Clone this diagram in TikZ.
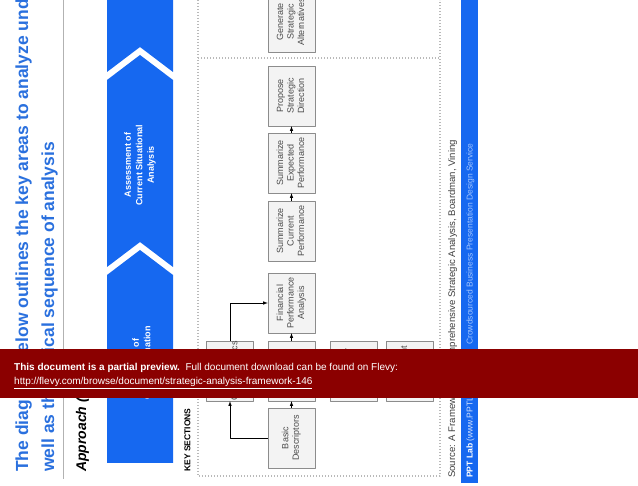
\documentclass[tikz,border=0pt]{standalone}
\usepackage{fontspec}
\setmainfont{Liberation Sans}
\usepackage{graphicx}
\definecolor{slideblue}{RGB}{22,104,240}
\definecolor{titleblue}{RGB}{42,112,222}
\definecolor{tagblue}{RGB}{160,196,255}
\definecolor{flevyred}{RGB}{139,0,0}
\definecolor{boxline}{RGB}{140,140,140}
\definecolor{boxfill}{RGB}{243,243,243}
\definecolor{boxtext}{RGB}{75,75,75}
\newcommand{\sidetext}[1]{\rotatebox{90}{\begin{tabular}{@{}c@{}}#1\end{tabular}}}
\begin{document}
\begin{tikzpicture}[x=1pt, y=-1pt, font=\fontsize{9}{10.5}\selectfont, line join=round, >=latex,
  keybox/.style={draw=boxline, fill=boxfill, text=boxtext, minimum width=47pt, minimum height=60pt, inner sep=0pt},
  upright/.style={rotate=90, inner sep=0pt},
  dotline/.style={draw=gray!55, line width=1.4pt, dash pattern=on 1.4pt off 1.6pt},
  flow/.style={->, line width=0.6pt}]
\useasboundingbox (0,0) rectangle (638,486);
% heading
\node[upright, anchor=base west, text=titleblue, font=\bfseries\fontsize{17.5}{21}\selectfont] (title1) at (28,472) {The diagram below outlines the key areas to analyze under};
\node[upright, anchor=base west, text=titleblue, font=\bfseries\fontsize{17.5}{21}\selectfont] (title2) at (54,472) {well as the logical sequence of analysis};
\draw[gray!60, line width=0.8pt] (63,0) -- (63,479);
\node[upright, anchor=base west, font=\bfseries\itshape\fontsize{14}{17}\selectfont] (approach) at (86,472) {Approach (1/2)};
% chevron band
\fill[slideblue] (107,0) -- (173,0) -- (173,72) -- (140,47) -- (107,72) -- cycle;
\fill[slideblue] (107,80) -- (140,55) -- (173,80) -- (173,267) -- (140,242) -- (107,267) -- cycle;
\fill[slideblue] (107,275) -- (140,250) -- (173,275) -- (173,463) -- (107,463) -- cycle;
\node[upright, align=center, text=white, font=\bfseries\fontsize{9}{11.5}\selectfont] (assess) at (140,165) {Assessment of\\Current Situational\\Analysis};
\node[upright, align=center, text=white, font=\bfseries\fontsize{9}{11.5}\selectfont] (situation) at (141.5,363) {Analysis of\\Current Situation};
% key sections frame
\draw[dotline] (198,0) -- (198,476) -- (440,476) -- (440,0);
\draw[dotline] (198,58) -- (440,58);
\node[upright, font=\bfseries\fontsize{8.5}{10}\selectfont] (keysec) at (187.5,440) {KEY SECTIONS};
% boxes
\node[keybox] (generate) at (291.5,22) {\sidetext{Generate\\Strategic\\Alternatives}};
\node[keybox] (propose) at (291.5,96) {\sidetext{Propose\\Strategic\\Direction}};
\node[keybox] (expected) at (291.5,163) {\sidetext{Summarize\\Expected\\Performance}};
\node[keybox] (current) at (291.5,231) {\sidetext{Summarize\\Current\\Performance}};
\node[keybox] (financial) at (291.5,303) {\sidetext{Financial\\Performance\\Analysis}};
\node[keybox] (industry) at (291.5,371) {\sidetext{Industry\\Analysis}};
\node[keybox] (basic) at (291.5,438) {\sidetext{Basic\\Descriptors}};
\node[keybox] (firm) at (230,371) {\sidetext{Firm\\Characteristics}};
\node[keybox] (rivals) at (353.5,371) {\sidetext{Competitor\\Analysis}};
\node[keybox] (environ) at (410,371) {\sidetext{Environment\\Analysis}};
% arrows
\draw[flow] (basic) -- (industry);
\draw[flow] (industry) -- (financial);
\draw[flow] (current) -- (expected);
\draw[flow] (expected) -- (propose);
\draw[flow] (basic.west) -| (firm.south);
\draw[flow] (firm.north) |- (financial.west);
% footer
\node[upright, anchor=base west, text=black!75, font=\fontsize{9.6}{11}\selectfont] (source) at (455,478) {Source: A Framework for Comprehensive Strategic Analysis, Boardman, Vining};
\fill[slideblue] (461,0) rectangle (478,483);
\node[upright, anchor=base west, text=white, font=\fontsize{8.5}{10}\selectfont] (brand) at (472.5,478) {\textbf{PPT Lab} \textcolor{tagblue!50!white}{(www.PPTLab.com)}};
\node[upright, anchor=base west, text=tagblue, font=\fontsize{8.5}{10}\selectfont] (tagline) at (472.5,345) {Crowdsourced Business Presentation Design Service};
% preview banner
\fill[flevyred] (0,349) rectangle (638,398);
\node[anchor=base west, inner sep=0pt, text=white, font=\fontsize{10}{12}\selectfont] (preview) at (14,371) {\textbf{This document is a partial preview.}\ \ Full document download can be found on Flevy:};
\node[anchor=base west, inner sep=0pt, text=white, font=\fontsize{10}{12}\selectfont] (url) at (14,384.5) {\underline{http://flevy.com/browse/document/strategic-analysis-framework-146}};
\end{tikzpicture}
\end{document}
